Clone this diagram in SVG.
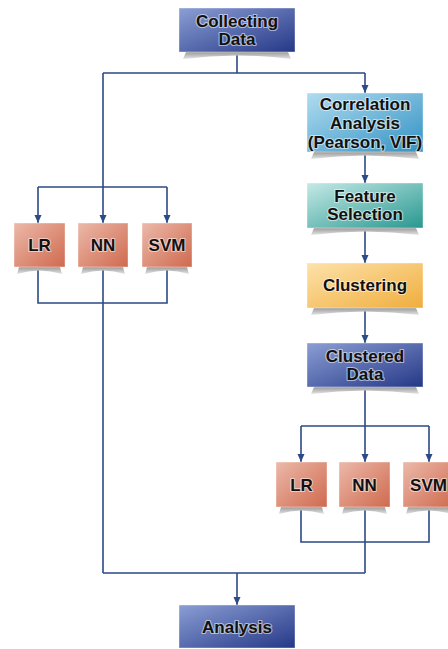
<svg xmlns="http://www.w3.org/2000/svg" width="448" height="649" viewBox="0 0 448 649">
<defs>
<linearGradient id="gNavy" x1="0" y1="0" x2="1" y2="1"><stop offset="0" stop-color="#8b9ed4"/><stop offset="1" stop-color="#253887"/></linearGradient>
<linearGradient id="gSky" x1="0" y1="0" x2="1" y2="1"><stop offset="0" stop-color="#b0dcef"/><stop offset="1" stop-color="#3392c4"/></linearGradient>
<linearGradient id="gTeal" x1="0" y1="0" x2="1" y2="1"><stop offset="0" stop-color="#c5e9e6"/><stop offset="1" stop-color="#289890"/></linearGradient>
<linearGradient id="gOrange" x1="0" y1="0" x2="1" y2="1"><stop offset="0" stop-color="#fde2aa"/><stop offset="1" stop-color="#f0ad3c"/></linearGradient>
<linearGradient id="gSalmon" x1="0" y1="0" x2="1" y2="1"><stop offset="0" stop-color="#ecb9aa"/><stop offset="1" stop-color="#cf6a4e"/></linearGradient>
<linearGradient id="gShadow" x1="0" y1="0" x2="0" y2="1"><stop offset="0" stop-color="#9a9a9a"/><stop offset="1" stop-color="#e4e4e4"/></linearGradient>
<marker id="arr" markerUnits="userSpaceOnUse" markerWidth="8" markerHeight="8" viewBox="0 0 8 8" refX="8" refY="4" orient="auto"><path d="M0,0.5 L8,4 L0,7.5 Z" fill="#2b4a86"/></marker>
</defs>
<style>
.c{fill:none;stroke:#2b4a86;stroke-width:1.6}
.a{marker-end:url(#arr)}
.sh{fill:url(#gShadow)}
.box{stroke:#ffffff;stroke-opacity:0.5;stroke-width:0.8}
.t{font-family:"Liberation Sans",Arial,sans-serif;font-weight:bold;font-size:17px;fill:#111;text-anchor:middle;stroke:#ffffff;stroke-opacity:0.55;stroke-width:2.2;paint-order:stroke;stroke-linejoin:round}
</style>
<g id="connectors">
<path class="c" d="M237,52 V73 M103,73 H365"/>
<path class="c a" d="M365,73 V93"/>
<path class="c a" d="M103,73 V223"/>
<path class="c" d="M38,187 H167"/>
<path class="c a" d="M38,187 V223"/>
<path class="c a" d="M167,187 V223"/>
<path class="c" d="M38,267 V303 H167 V267 M103,267 V573"/>
<path class="c a" d="M365,152 V183"/>
<path class="c a" d="M365,228 V263"/>
<path class="c a" d="M365,308 V343"/>
<path class="c a" d="M365,387 V462"/>
<path class="c" d="M301,426 H429"/>
<path class="c a" d="M301,426 V462"/>
<path class="c a" d="M429,426 V462"/>
<path class="c" d="M301,507 V542 H429 V507 M365,507 V573 M103,573 H365"/>
<path class="c a" d="M237,573 V605"/>
</g>
<g id="collecting">
<path class="sh" d="M186,52 H288 L291,59 Q237,52 183,59 Z"/>
<rect class="box" x="179" y="8" width="116" height="44" fill="url(#gNavy)"/>
<text class="t" x="237" y="27">Collecting</text>
<text class="t" x="237" y="45">Data</text>
</g>
<g id="correlation">
<path class="sh" d="M314,152 H416 L419,159 Q365,152 311,159 Z"/>
<rect class="box" x="307" y="93" width="116" height="59" fill="url(#gSky)"/>
<text class="t" x="365" y="110">Correlation</text>
<text class="t" x="365" y="129">Analysis</text>
<text class="t" x="365" y="148">(Pearson, VIF)</text>
</g>
<g id="feature">
<path class="sh" d="M314,228 H416 L419,235 Q365,228 311,235 Z"/>
<rect class="box" x="307" y="183" width="116" height="45" fill="url(#gTeal)"/>
<text class="t" x="365" y="202">Feature</text>
<text class="t" x="365" y="220">Selection</text>
</g>
<g id="clustering">
<path class="sh" d="M314,308 H416 L419,315 Q365,308 311,315 Z"/>
<rect class="box" x="307" y="263" width="116" height="45" fill="url(#gOrange)"/>
<text class="t" x="365" y="291">Clustering</text>
</g>
<g id="clustered">
<path class="sh" d="M314,387 H416 L419,394 Q365,387 311,394 Z"/>
<rect class="box" x="307" y="343" width="116" height="44" fill="url(#gNavy)"/>
<text class="t" x="365" y="362">Clustered</text>
<text class="t" x="365" y="380">Data</text>
</g>
<g id="lr1">
<path class="sh" d="M19,267 H60 L62,274 Q39,267 17,274 Z"/>
<rect class="box" x="14" y="223" width="51" height="44" fill="url(#gSalmon)"/>
<text class="t" x="39.5" y="251">LR</text>
</g>
<g id="nn1">
<path class="sh" d="M83,267 H123 L125,274 Q103,267 81,274 Z"/>
<rect class="box" x="78" y="223" width="50" height="44" fill="url(#gSalmon)"/>
<text class="t" x="103" y="251">NN</text>
</g>
<g id="svm1">
<path class="sh" d="M147,267 H187 L189,274 Q167,267 145,274 Z"/>
<rect class="box" x="142" y="223" width="50" height="44" fill="url(#gSalmon)"/>
<text class="t" x="167" y="251">SVM</text>
</g>
<g id="lr2">
<path class="sh" d="M281,507 H322 L324,514 Q301,507 279,514 Z"/>
<rect class="box" x="276" y="462" width="51" height="45" fill="url(#gSalmon)"/>
<text class="t" x="301.5" y="491">LR</text>
</g>
<g id="nn2">
<path class="sh" d="M344,507 H385 L387,514 Q365,507 342,514 Z"/>
<rect class="box" x="339" y="462" width="51" height="45" fill="url(#gSalmon)"/>
<text class="t" x="364.5" y="491">NN</text>
</g>
<g id="svm2">
<path class="sh" d="M408,507 H449 L451,514 Q429,507 406,514 Z"/>
<rect class="box" x="403" y="462" width="51" height="45" fill="url(#gSalmon)"/>
<text class="t" x="428.5" y="491">SVM</text>
</g>
<g id="analysis">
<rect class="box" x="179" y="605" width="116" height="43" fill="url(#gNavy)"/>
<text class="t" x="237" y="633">Analysis</text>
</g>
</svg>
